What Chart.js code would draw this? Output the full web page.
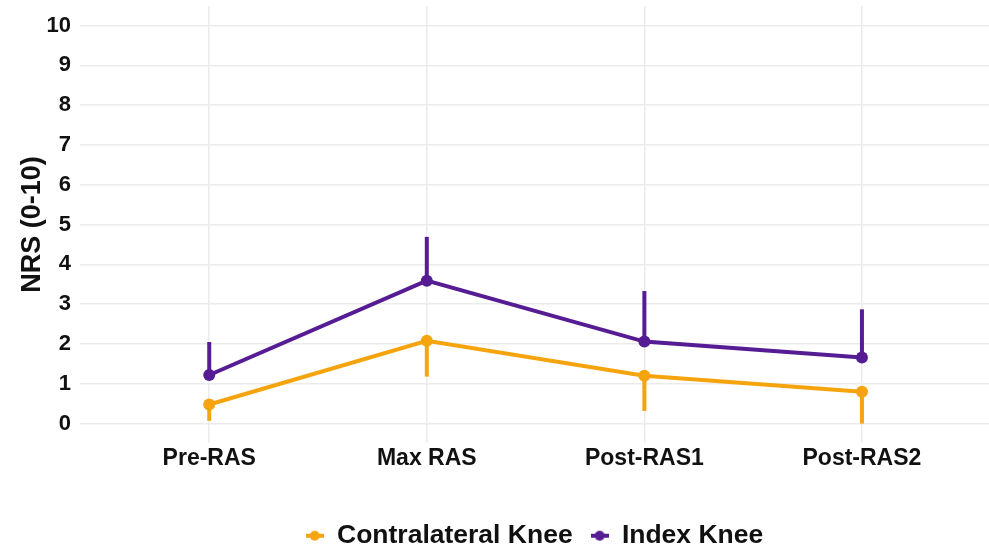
<!DOCTYPE html>
<html>
<head>
<meta charset="utf-8">
<script src="https://cdn.jsdelivr.net/npm/chart.js"></script>
<style>
  html, body { margin: 0; padding: 0; background: #fff; overflow: hidden; }
  #wrap { width: 995px; height: 552px; }
</style>
</head>
<body>
<div id="wrap"><canvas id="chartNrs"></canvas></div>
<script>
// NRS pain scores over RAS phases, mean with one-sided SD bars
const categories = ['Pre-RAS', 'Max RAS', 'Post-RAS1', 'Post-RAS2'];
const contraMean = [0.48, 2.08, 1.20, 0.80];
const contraSd = [0.41, 0.90, 0.88, 0.80];
const indexMean = [1.22, 3.59, 2.06, 1.66];
const indexSd = [0.83, 1.10, 1.27, 1.21];
const yTicks = [0, 1, 2, 3, 4, 5, 6, 7, 8, 9, 10];

const ORANGE = '#F6A40E';
const PURPLE = '#561C94';
const FONT = "'Liberation Sans', Arial, sans-serif";

function legendKey(color) {
  const c = document.createElement('canvas');
  c.width = 18; c.height = 12;
  const g = c.getContext('2d');
  g.strokeStyle = color;
  g.lineWidth = 4;
  g.beginPath(); g.moveTo(0, 6); g.lineTo(18, 6); g.stroke();
  g.fillStyle = color;
  g.beginPath(); g.arc(9, 6, 5, 0, Math.PI * 2); g.fill();
  return c;
}

// draws the sd stems: index knee goes up, contralateral goes down
const errorBars = {
  id: 'errorBars',
  afterDatasetsDraw(chart) {
    const ctx = chart.ctx;
    const ys = chart.scales.y;
    chart.data.datasets.forEach((ds, di) => {
      const meta = chart.getDatasetMeta(di);
      ctx.save();
      ctx.strokeStyle = ds.borderColor;
      ctx.lineWidth = 4;
      meta.data.forEach((pt, i) => {
        const m = ds.data[i].y;
        const end = m + ds.errDir * ds.errSd[i];
        ctx.beginPath();
        ctx.moveTo(pt.x, ys.getPixelForValue(m));
        ctx.lineTo(pt.x, ys.getPixelForValue(end));
        ctx.stroke();
      });
      ctx.restore();
    });
  }
};

const ctx = document.getElementById('chartNrs').getContext('2d');
new Chart(ctx, {
  type: 'line',
  data: {
    datasets: [{
      label: 'Contralateral Knee',
      data: categories.map((c, i) => ({ x: i, y: contraMean[i] })),
      borderColor: ORANGE,
      backgroundColor: ORANGE,
      borderWidth: 4,
      pointRadius: 6,
      pointBorderWidth: 0,
      pointStyle: 'circle',
      errSd: contraSd,
      errDir: -1
    }, {
      label: 'Index Knee',
      data: categories.map((c, i) => ({ x: i, y: indexMean[i] })),
      borderColor: PURPLE,
      backgroundColor: PURPLE,
      borderWidth: 4,
      pointRadius: 6,
      pointBorderWidth: 0,
      pointStyle: 'circle',
      errSd: indexSd,
      errDir: 1
    }]
  },
  plugins: [errorBars],
  options: {
    responsive: true,
    maintainAspectRatio: false,
    animation: false,
    layout: { padding: { top: 0, right: 0, bottom: -7, left: 0 } },
    plugins: {
      tooltip: { enabled: false },
      legend: {
        position: 'bottom',
        fullSize: false,
        labels: {
          usePointStyle: true,
          pointStyleWidth: 18,
          boxHeight: 12,
          padding: 18,
          color: '#111',
          font: { family: FONT, size: 26.5, weight: 'bold' },
          generateLabels(chart) {
            return chart.data.datasets.map((ds, i) => ({
              text: ds.label,
              fillStyle: ds.borderColor,
              strokeStyle: ds.borderColor,
              lineWidth: 0,
              pointStyle: legendKey(ds.borderColor),
              fontColor: '#111',
              datasetIndex: i
            }));
          }
        }
      }
    },
    scales: {
      x: {
        type: 'linear',
        min: -0.594,
        max: 3.584,
        border: { display: false },
        grid: { color: '#EBEBEB', lineWidth: 1.5, drawTicks: false },
        ticks: {
          stepSize: 1,
          includeBounds: false,
          autoSkip: false,
          maxRotation: 0,
          padding: 2,
          color: '#111',
          font: { family: FONT, size: 23, weight: 'bold' },
          callback: v => (Number.isInteger(v) ? categories[v] : '')
        },
        afterFit(s) { s.height = 61.4; s.paddingLeft = 0; s.paddingRight = 0; }
      },
      y: {
        min: -0.49,
        max: 10.49,
        border: { display: false },
        grid: { color: '#EBEBEB', lineWidth: 1.5, drawTicks: false },
        afterBuildTicks(s) { s.ticks = yTicks.map(v => ({ value: v })); },
        ticks: {
          padding: 9,
          color: '#111',
          font: { family: FONT, size: 22, weight: 'bold' }
        },
        title: {
          display: true,
          text: 'NRS (0-10)',
          color: '#111',
          padding: { top: 16, bottom: 0 },
          font: { family: FONT, size: 27, weight: 'bold' }
        },
        afterFit(s) { s.width = 80; s.paddingTop = 0; s.paddingBottom = 0; }
      }
    }
  }
});
</script>
</body>
</html>
